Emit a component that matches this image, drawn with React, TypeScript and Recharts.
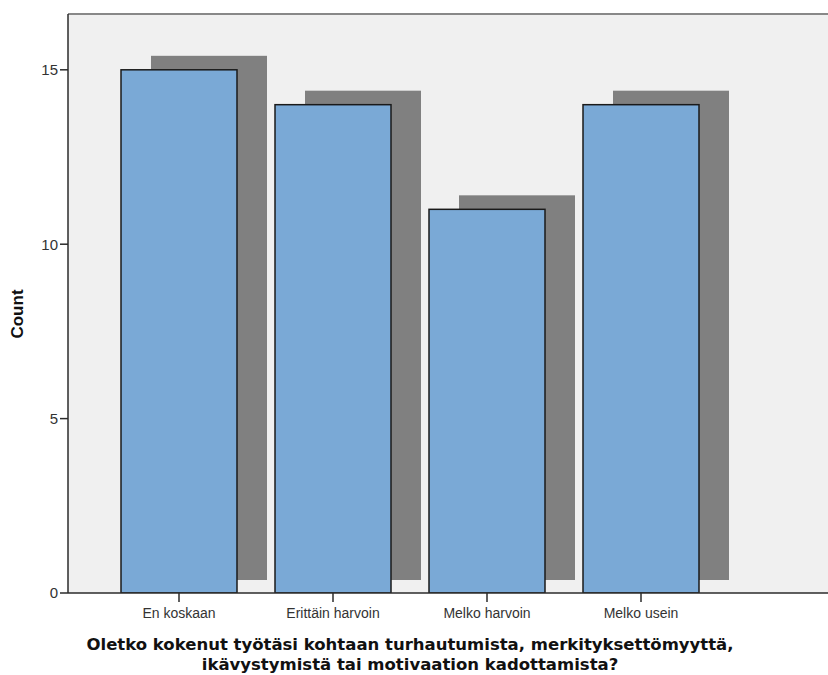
import { Bar, BarChart, CartesianGrid, ReferenceLine, XAxis, YAxis } from 'recharts'

const categories = ['En koskaan', 'Erittäin harvoin', 'Melko harvoin', 'Melko usein']
const counts = [15, 14, 11, 14]
const yTicks = [0, 5, 10, 15]

const data = categories.map((label, i) => ({ label, value: counts[i] }))

const barFill = '#7aa9d6'
const shadowFill = '#808080'
const axisColor = '#2b2b2b'

// SPSS style drop shadow: same rect moved right and up
function ShadowBar(props: any) {
  const { x, y, width, height } = props
  if (width == null || height == null) return null
  return (
    <g>
      <rect x={x + 30} y={y - 14} width={width} height={height + 1} fill={shadowFill} />
      <rect x={x} y={y} width={width} height={height} fill={barFill} stroke="#1a1a1a" strokeWidth={1.5} />
    </g>
  )
}

export default function App() {
  return (
    <div style={{ position: 'absolute', left: 0, top: 0, width: 828, height: 675, background: '#fff' }}>
      <BarChart
        width={828}
        height={675}
        data={data}
        margin={{ top: 14, right: 0, bottom: 0, left: 0 }}
        barSize={116}
      >
        <CartesianGrid fill="#f0f0f0" horizontal={false} vertical={false} />
        <XAxis
          dataKey="label"
          height={82}
          padding={{ left: 34, right: 110 }}
          axisLine={{ stroke: axisColor, strokeWidth: 1.5 }}
          tickLine={{ stroke: axisColor, strokeWidth: 1.5 }}
          tickSize={9}
          tickMargin={6}
          tick={{ fill: '#333', fontSize: 14, fontFamily: 'Liberation Sans, Arial, sans-serif' }}
        />
        <YAxis
          width={68}
          domain={[0, 16.6]}
          ticks={yTicks}
          allowDataOverflow
          axisLine={{ stroke: axisColor, strokeWidth: 1.5 }}
          tickLine={{ stroke: axisColor, strokeWidth: 1.5 }}
          tickSize={8}
          tick={{ fill: '#333', fontSize: 15, fontFamily: 'Liberation Sans, Arial, sans-serif' }}
        />
        <ReferenceLine y={16.6} stroke="#888" strokeWidth={2} />
        <Bar dataKey="value" shape={ShadowBar} isAnimationActive={false} />
      </BarChart>
      <div
        style={{
          position: 'absolute',
          left: 18,
          top: 314,
          transform: 'translate(-50%, -50%) rotate(-90deg)',
          fontFamily: 'Liberation Sans, Arial, sans-serif',
          fontWeight: 700,
          fontSize: 17,
          color: '#111',
        }}
      >
        Count
      </div>
      <div
        style={{
          position: 'absolute',
          left: -4,
          width: 828,
          top: 635,
          textAlign: 'center',
          fontFamily: 'DejaVu Sans, Verdana, sans-serif',
          fontWeight: 700,
          fontSize: 16.5,
          lineHeight: '20px',
          color: '#111',
        }}
      >
        Oletko kokenut työtäsi kohtaan turhautumista, merkityksettömyyttä,
        <br />
        ikävystymistä tai motivaation kadottamista?
      </div>
    </div>
  )
}
